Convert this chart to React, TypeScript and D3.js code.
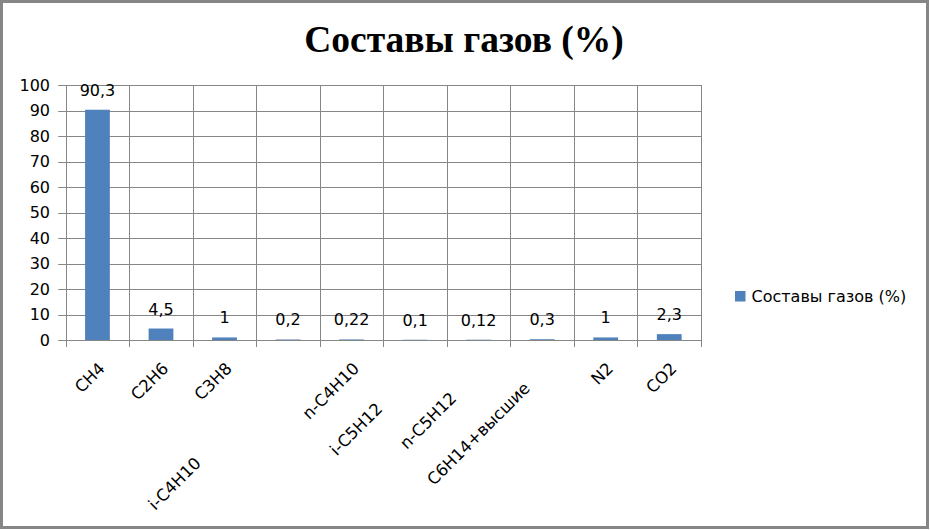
import React from "react";
import * as d3 from "d3";

const categories = ["CH4", "C2H6", "C3H8", "i-C4H10", "n-C4H10", "i-C5H12", "n-C5H12", "C6H14+высшие", "N2", "CO2"];
const values = [90.3, 4.5, 1, 0.2, 0.22, 0.1, 0.12, 0.3, 1, 2.3];
const valueLabels = ["90,3", "4,5", "1", "0,2", "0,22", "0,1", "0,12", "0,3", "1", "2,3"];
const yTicks = [0, 10, 20, 30, 40, 50, 60, 70, 80, 90, 100];
const title = "Составы газов (%)";
const seriesName = "Составы газов (%)";

// layout: staggering offsets (px along text direction) that Excel applied to overlapping labels
const labelStagger = [0, 0, 0, 134, 0, 57, 42, 28, 0, 0];

const W = 930, H = 530;
const plot = { left: 65.7, right: 701, top: 85, bottom: 340 };
const GRID = "#868686";
const BAR = "#4F81BD";
const FONT = "'DejaVu Sans', sans-serif";

export default function App() {
  const x = d3.scaleBand<string>().domain(categories).range([plot.left, plot.right]).padding(0);
  const y = d3.scaleLinear().domain([0, 100]).range([plot.bottom, plot.top]);
  const bw = x.bandwidth() * 0.39;
  const bounds = categories.map((c) => x(c)!).concat([plot.right]);

  return (
    <svg width={W} height={H} style={{ position: "absolute", left: 0, top: 0, background: "#fff" }}>
      <rect x={1.5} y={1.5} width={926} height={526} fill="#fff" stroke={GRID} strokeWidth={3} />
      <text x={464} y={52} textAnchor="middle" fontFamily="'Liberation Serif', serif" fontWeight="bold" fontSize={37.5}>
        {title}
      </text>
      {/* horizontal gridlines */}
      {yTicks.map((t) => (
        <g key={"y" + t}>
          <line x1={plot.left - 7.5} x2={plot.right} y1={Math.round(y(t)) + 0.5} y2={Math.round(y(t)) + 0.5} stroke={GRID} strokeWidth={1} />
          <text x={50} y={y(t)} dy="0.36em" textAnchor="end" fontFamily={FONT} fontSize={16} fill="#000">
            {t}
          </text>
        </g>
      ))}
      {/* vertical gridlines / ticks */}
      {bounds.map((bx, i) => (
        <line key={"v" + i} x1={Math.round(bx) + 0.5} x2={Math.round(bx) + 0.5} y1={plot.top} y2={plot.bottom + 7} stroke={GRID} strokeWidth={1} />
      ))}
      {/* bars */}
      {categories.map((c, i) => {
        const cx = x(c)! + x.bandwidth() / 2;
        return (
          <g key={c}>
            <rect x={cx - bw / 2} y={y(values[i])} width={bw} height={y(0) - y(values[i])} fill={BAR} />
            <text x={cx} y={y(values[i]) - 14} textAnchor="middle" fontFamily={FONT} fontSize={16} fill="#000">
              {valueLabels[i]}
            </text>
          </g>
        );
      })}
      {/* category labels */}
      {categories.map((c, i) => {
        const cx = x(c)! + x.bandwidth() / 2;
        const ay = 361;
        return (
          <text
            key={"l" + c}
            transform={`translate(${cx},${ay}) rotate(-45)`}
            x={-labelStagger[i]}
            dy="0.73em"
            textAnchor="end"
            fontFamily={FONT}
            fontSize={16.5}
            fill="#000"
          >
            {c}
          </text>
        );
      })}
      {/* legend */}
      <rect x={735} y={291} width={10.5} height={10.5} fill={BAR} />
      <text x={751.5} y={302} fontFamily={FONT} fontSize={16} fill="#000">
        {seriesName}
      </text>
    </svg>
  );
}
